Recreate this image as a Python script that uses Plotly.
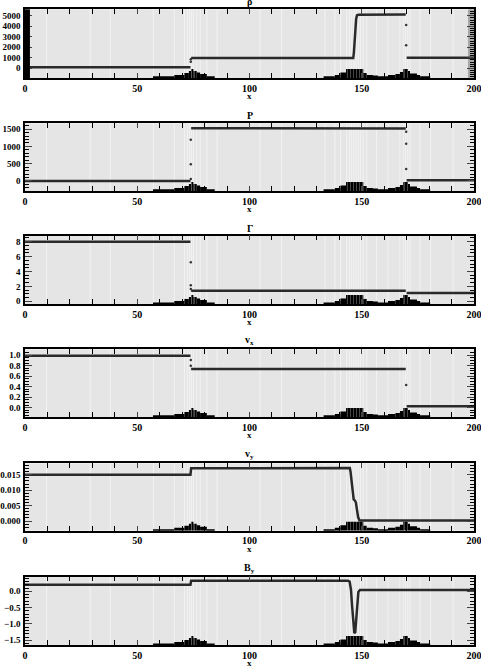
import numpy as np
import plotly.graph_objects as go

# valeurs (profils 1D, 0 <= x <= 200)
rho_x = [0, 73.7, None, 74.0, 146.2, 146.5, 147.0, 147.5, 147.9, 148.5, 169.6, None, 170.0, 200]
rho_y = [100, 100, None, 980, 980, 1500, 3200, 4700, 5050, 5100, 5120, None, 1010, 1010]
rho_jx = [73.85, 73.85, 169.8, 169.8]
rho_jy = [630, 860, 4120, 2190]

p_x = [0, 73.7, None, 74.0, 169.6, None, 170.0, 200]
p_y = [2, 2, None, 1525, 1520, None, 18, 18]
p_jx = [73.85, 73.85, 73.85, 169.8, 169.8, 169.8]
p_jy = [1193, 483, 58, 1425, 1078, 347]

gam_x = [0, 73.7, None, 74.0, 169.6, None, 170.0, 200]
gam_y = [8.0, 8.0, None, 1.42, 1.42, None, 1.1, 1.1]
gam_jx = [73.85, 73.85, 73.85]
gam_jy = [5.23, 2.15, 1.65]

vx_x = [0, 73.7, None, 74.0, 169.6, None, 170.0, 200]
vx_y = [0.99, 0.99, None, 0.737, 0.735, None, 0.03, 0.03]
vx_jx = [73.85, 73.85, 169.8]
vx_jy = [0.91, 0.80, 0.43]

vy_x = [0, 73.7, 74.0, 144.7, 145.0, 145.5, 146.0, 146.4, 147.0, 147.4, 147.9, 148.4, 149.0, 200]
vy_y = [0.0150, 0.0150, 0.0171, 0.0172, 0.0160, 0.0120, 0.0085, 0.0070, 0.0066, 0.0060, 0.0035, 0.0012, 0.0002, 0.0002]

by_x = [0, 73.7, 74.0, 143.8, 144.6, 145.2, 145.7, 146.2, 146.7, 147.1, 147.6, 148.0, 148.5, 149.2, 200]
by_y = [0.20, 0.20, 0.325, 0.325, 0.30, 0.05, -0.45, -0.95, -1.28, -1.25, -0.85, -0.35, -0.02, 0.04, 0.04]

# histogramme en bas de chaque panneau (hauteur en fraction du panneau)
hist_edges = [57, 66.5, 71, 73, 74, 75, 76.5, 78, 81, 84.5, 133, 138, 140.5, 143, 150.7,
              152.2, 155, 157.2, 161.7, 165, 167, 168.5, 170.6, 171.5, 174.6, 176, 180.5]
hist_heights = [0.022, 0.044, 0.074, 0.103, 0.132, 0.103, 0.081, 0.059, 0.022, 0.0,
                0.022, 0.044, 0.081, 0.132, 0.074, 0.044, 0.037, 0.022, 0.044, 0.059,
                0.088, 0.132, 0.103, 0.066, 0.044, 0.022]

# limites des blocs de la grille (lignes claires du fond)
cell_edges = [9.6, 29, 38, 57.2, 66.5, 71, 72.3, 73.3, 74.2, 75, 76.5, 78, 81, 85.6,
              104.7, 114.3, 133.6, 138, 140.6, 143.3, 144.5, 145.5, 146.5, 147.5, 148.5,
              149.5, 150.6, 152.2, 156.6, 161.7, 167, 168.5, 169.5, 170.5, 171.5, 176,
              180.7, 190.7]

panels = [
    dict(title="ρ", x=rho_x, y=rho_y, jx=rho_jx, jy=rho_jy, rng=[-920, 5620], dtick=1000, minor=200, fmt="d"),
    dict(title="P", x=p_x, y=p_y, jx=p_jx, jy=p_jy, rng=[-290, 1667], dtick=500, minor=100, fmt="d"),
    dict(title="Γ", x=gam_x, y=gam_y, jx=gam_jx, jy=gam_jy, rng=[-0.36, 8.8], dtick=2, minor=0.5, fmt="d"),
    dict(title="v<sub>x</sub>", x=vx_x, y=vx_y, jx=vx_jx, jy=vx_jy, rng=[-0.177, 1.112], dtick=0.2, minor=0.05, fmt=".1f"),
    dict(title="v<sub>y</sub>", x=vy_x, y=vy_y, jx=[], jy=[], rng=[-0.00315, 0.01873], dtick=0.005, minor=0.001, fmt=".3f"),
    dict(title="B<sub>y</sub>", x=by_x, y=by_y, jx=[], jy=[], rng=[-1.644, 0.448], dtick=0.5, minor=0.1, fmt=".1f"),
]

W, H = 481, 666
tops = [9.3, 123.3, 235.7, 349.3, 463.3, 576.7]    # bord haut des cadres (px)
bots = [78, 191, 304, 417, 530.7, 645]             # bord bas des cadres (px)
gauche, droite = 25, 474                           # bords gauche/droit des cadres (px)

police = dict(family="Liberation Serif", size=10, color="black", weight="bold")
police_y = dict(family="Liberation Serif", size=9, color="black", weight="bold")


def nom(lettre, n):
    """nom d'axe plotly : 'x', 'x2', ..."""
    return lettre if n == 1 else f"{lettre}{n}"


fig = go.Figure()
layout = dict(width=W, height=H, margin=dict(l=gauche, r=W - droite, t=0, b=0),
              paper_bgcolor="white", plot_bgcolor="#e5e5e5", showlegend=False,
              font=police, barmode="overlay")
shapes = []
annotations = []
widths = list(np.diff(hist_edges))
# les barres les plus hautes (mailles très fines) apparaissent hachurées
motifs = ["|" if h >= 0.1 else "" for h in hist_heights]

for i, pan in enumerate(panels):
    n = i + 1
    xa, ya, ha = nom("x", n), nom("y", n), nom("y", n + 6)
    dom = [1 - bots[i] / H, 1 - tops[i] / H]

    # profil
    fig.add_trace(go.Scatter(x=pan["x"], y=pan["y"], mode="lines", xaxis=xa, yaxis=ya,
                             line=dict(color="#2a2a2a", width=2.5)))
    if pan["jx"]:
        fig.add_trace(go.Scatter(x=pan["jx"], y=pan["jy"], mode="markers", xaxis=xa, yaxis=ya,
                                 marker=dict(color="#333", size=2.5)))
    # histogramme
    fig.add_trace(go.Bar(x=hist_edges[:-1], y=hist_heights, width=widths, offset=0,
                         xaxis=xa, yaxis=ha,
                         marker=dict(color="black", line=dict(width=0),
                                     pattern=dict(shape=motifs, fgcolor="#8a8a8a", size=3,
                                                  solidity=0.35, fillmode="overlay"))))

    layout[f"xaxis{n}"] = dict(domain=[0, 1], anchor=ya, range=[0, 200], tickvals=[0, 50, 100, 150, 200],
                               ticks="inside", ticklen=5, tickwidth=1, mirror="allticks",
                               showline=True, linecolor="black", linewidth=1.5, showgrid=False,
                               zeroline=False, tickfont=police, ticklabeloverflow="allow", automargin=False,
                               minor=dict(dtick=10, ticks="inside", ticklen=3, tickcolor="black", showgrid=False))
    layout[f"yaxis{n}"] = dict(domain=dom, anchor=xa, range=pan["rng"], dtick=pan["dtick"], tick0=0,
                               tickformat=pan["fmt"], ticks="inside", ticklen=7, tickwidth=1,
                               mirror="allticks", showline=True, linecolor="black", linewidth=1.5,
                               showgrid=False, zeroline=False, tickfont=police_y, ticklabelstandoff=1,
                               ticklabeloverflow="allow", automargin=False,
                               minor=dict(dtick=pan["minor"], ticks="inside", ticklen=4, tickcolor="black", showgrid=False))
    layout[f"yaxis{n + 6}"] = dict(domain=dom, anchor=xa, overlaying=ya, range=[0, 1], visible=False)

    for e in cell_edges:
        shapes.append(dict(type="line", xref=xa, yref=f"{ya} domain", x0=e, x1=e, y0=0, y1=1,
                           line=dict(color="#f3f3f3", width=1), layer="below"))

    annotations.append(dict(text=pan["title"], xref=f"{xa} domain", yref=f"{ya} domain", x=0.5, y=1,
                            yanchor="bottom", yshift=0, showarrow=False,
                            font=dict(family="Liberation Serif", size=10, color="black", weight="bold")))
    annotations.append(dict(text="x", xref=f"{xa} domain", yref=f"{ya} domain", x=0.5, y=0,
                            yanchor="middle", yshift=-18, showarrow=False,
                            font=dict(family="Liberation Serif", size=9, color="black", weight="bold")))

# bandes sombres au bord du premier panneau (graduations très serrées)
shapes.append(dict(type="rect", xref="x", yref="y domain", x0=0, x1=2.2, y0=0, y1=1,
                   fillcolor="black", line=dict(width=0), layer="above"))
shapes.append(dict(type="rect", xref="x", yref="y domain", x0=197.3, x1=200, y0=0, y1=1,
                   fillcolor="#a8a8a8", line=dict(width=0), layer="below"))

layout["shapes"] = shapes
layout["annotations"] = annotations
fig.update_layout(**layout)

# pas de marge autour de la figure dans la page, pas de barre d'outils
fig.write_html("out.html", config={"displayModeBar": False},
               post_script="document.body.style.margin = '0';")
